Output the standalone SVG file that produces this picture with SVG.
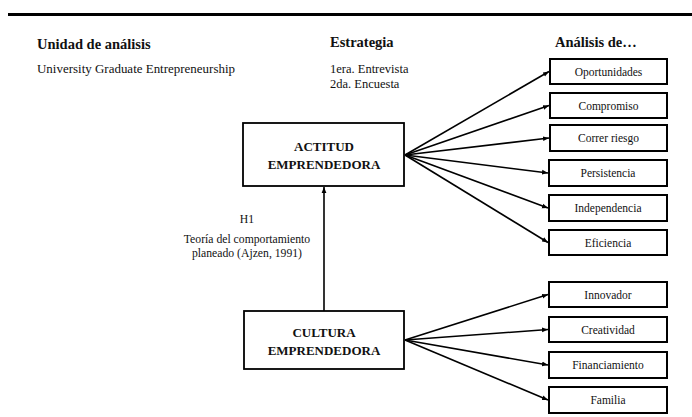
<svg xmlns="http://www.w3.org/2000/svg" width="692" height="417" viewBox="0 0 692 417">
  <defs>
    <marker id="arrow" viewBox="0 0 10 10" refX="10" refY="5" markerWidth="6" markerHeight="6" markerUnits="userSpaceOnUse" orient="auto">
      <path d="M0,1 L10,5 L0,9 z" fill="#000"/>
    </marker>
    <style>
      text { font-family: "Liberation Serif", "DejaVu Serif", serif; fill: #111; }
      .head { font-size: 14.5px; font-weight: bold; }
      .body { font-size: 12.5px; }
      .main rect { fill: #fff; stroke: #000; stroke-width: 1.8; }
      .main text { font-size: 13px; font-weight: bold; text-anchor: middle; }
      .item rect { fill: #fff; stroke: #000; stroke-width: 2; }
      .item text { font-size: 11.5px; text-anchor: middle; }
      .conn line { stroke: #000; stroke-width: 1.6; marker-end: url(#arrow); }
      .note { font-size: 11.7px; text-anchor: middle; }
    </style>
  </defs>

  <rect width="692" height="417" fill="#fff"/>
  <line x1="8" y1="14.5" x2="692" y2="14.5" stroke="#000" stroke-width="3"/>

  <!-- column headings -->
  <text class="head" x="37" y="49">Unidad de análisis</text>
  <text class="body" x="37" y="73" textLength="198" lengthAdjust="spacingAndGlyphs">University Graduate Entrepreneurship</text>
  <text class="head" x="330" y="47">Estrategia</text>
  <text class="body" x="330" y="73">1era. Entrevista</text>
  <text class="body" x="330" y="88">2da. Encuesta</text>
  <text class="head" x="555" y="47">Análisis de…</text>

  <!-- hypothesis label -->
  <g id="h1-label">
    <text class="note" x="247" y="223">H1</text>
    <text class="note" x="247" y="243">Teoría del comportamiento</text>
    <text class="note" x="247" y="257">planeado (Ajzen, 1991)</text>
  </g>

  <!-- connectors -->
  <g id="connectors" class="conn">
    <line x1="324" y1="311" x2="324" y2="187"/>
    <line x1="405" y1="155" x2="549" y2="71.5"/>
    <line x1="405" y1="155" x2="549" y2="105.5"/>
    <line x1="405" y1="155" x2="549" y2="138"/>
    <line x1="405" y1="155" x2="548" y2="173"/>
    <line x1="405" y1="155" x2="548" y2="208"/>
    <line x1="405" y1="155" x2="548" y2="242.5"/>
    <line x1="405" y1="340" x2="548" y2="294.5"/>
    <line x1="405" y1="340" x2="548" y2="329.5"/>
    <line x1="405" y1="340" x2="548" y2="365"/>
    <line x1="405" y1="340" x2="548" y2="400"/>
  </g>

  <!-- main constructs -->
  <g id="actitud" class="main">
    <rect x="243" y="123" width="161" height="63"/>
    <text x="324" y="151">ACTITUD</text>
    <text x="324" y="169">EMPRENDEDORA</text>
  </g>
  <g id="cultura" class="main">
    <rect x="244" y="311" width="160" height="58"/>
    <text x="324" y="337">CULTURA</text>
    <text x="324" y="355">EMPRENDEDORA</text>
  </g>

  <!-- dimensions of ACTITUD -->
  <g id="oportunidades" class="item">
    <rect x="550" y="59" width="117" height="25"/>
    <text x="608.5" y="75.5">Oportunidades</text>
  </g>
  <g id="compromiso" class="item">
    <rect x="550" y="93" width="117" height="25"/>
    <text x="608.5" y="109.5">Compromiso</text>
  </g>
  <g id="correr-riesgo" class="item">
    <rect x="550" y="125" width="117" height="26"/>
    <text x="608.5" y="142">Correr riesgo</text>
  </g>
  <g id="persistencia" class="item">
    <rect x="549" y="160" width="118" height="26"/>
    <text x="608" y="177">Persistencia</text>
  </g>
  <g id="independencia" class="item">
    <rect x="549" y="195" width="118" height="26"/>
    <text x="608" y="212">Independencia</text>
  </g>
  <g id="eficiencia" class="item">
    <rect x="549" y="230" width="118" height="25"/>
    <text x="608" y="246.5">Eficiencia</text>
  </g>

  <!-- dimensions of CULTURA -->
  <g id="innovador" class="item">
    <rect x="549" y="282" width="118" height="25"/>
    <text x="608" y="298.5">Innovador</text>
  </g>
  <g id="creatividad" class="item">
    <rect x="549" y="317" width="118" height="25"/>
    <text x="608" y="333.5">Creatividad</text>
  </g>
  <g id="financiamiento" class="item">
    <rect x="549" y="352" width="118" height="26"/>
    <text x="608" y="369">Financiamiento</text>
  </g>
  <g id="familia" class="item">
    <rect x="549" y="387" width="118" height="26"/>
    <text x="608" y="404">Familia</text>
  </g>
</svg>
